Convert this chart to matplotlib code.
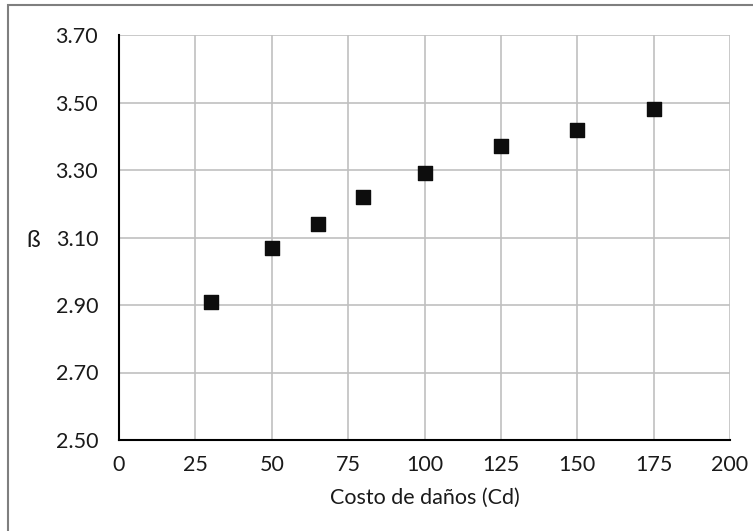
import matplotlib.pyplot as plt
from matplotlib.patches import Rectangle

# Data
costo = [30, 50, 65, 80, 100, 125, 150, 175]
beta = [2.91, 3.07, 3.14, 3.22, 3.29, 3.37, 3.42, 3.48]

x_ticks = [0, 25, 50, 75, 100, 125, 150, 175, 200]
y_ticks = [2.50, 2.70, 2.90, 3.10, 3.30, 3.50, 3.70]

plt.rcParams['font.family'] = ['Lato', 'DejaVu Sans']

fig = plt.figure(figsize=(7.53, 5.31), dpi=100)
ax = fig.add_axes([119 / 753, 91 / 531, 611 / 753, 405 / 531])

ax.scatter(costo, beta, marker='s', s=110, color='#0d0d0d', zorder=3)

ax.set_xlim(0, 200)
ax.set_ylim(2.5, 3.7)
ax.set_xticks(x_ticks)
ax.set_yticks(y_ticks)
ax.set_yticklabels([f"{v:.2f}" for v in y_ticks])
ax.tick_params(axis='both', length=0, labelsize=15.5, colors='#1a1a1a')
ax.tick_params(axis='y', pad=15)
ax.tick_params(axis='x', pad=11)

ax.grid(True, color='#c0c0c0', linewidth=1.2)
ax.set_axisbelow(True)
for side in ['top', 'right']:
    ax.spines[side].set_visible(False)
for side in ['left', 'bottom']:
    ax.spines[side].set_linewidth(1.5)
    ax.spines[side].set_color('black')
    ax.spines[side].set_zorder(4)

ax.set_xlabel("Costo de daños (Cd)", fontsize=15.5, labelpad=9, color='#1a1a1a')
fig.text(33 / 753, 1 - 240 / 531, "ß", fontsize=17, ha='center', va='center',
         color='#1a1a1a')

# Chart border (right and bottom edges fall outside the image)
fig.patches.append(Rectangle((8 / 753, -0.05), 1.0, 1 - 5 / 531 + 0.05,
                             transform=fig.transFigure, fill=False,
                             edgecolor='#7f7f7f', linewidth=1.5))

fig.savefig('out.png', dpi=100)
